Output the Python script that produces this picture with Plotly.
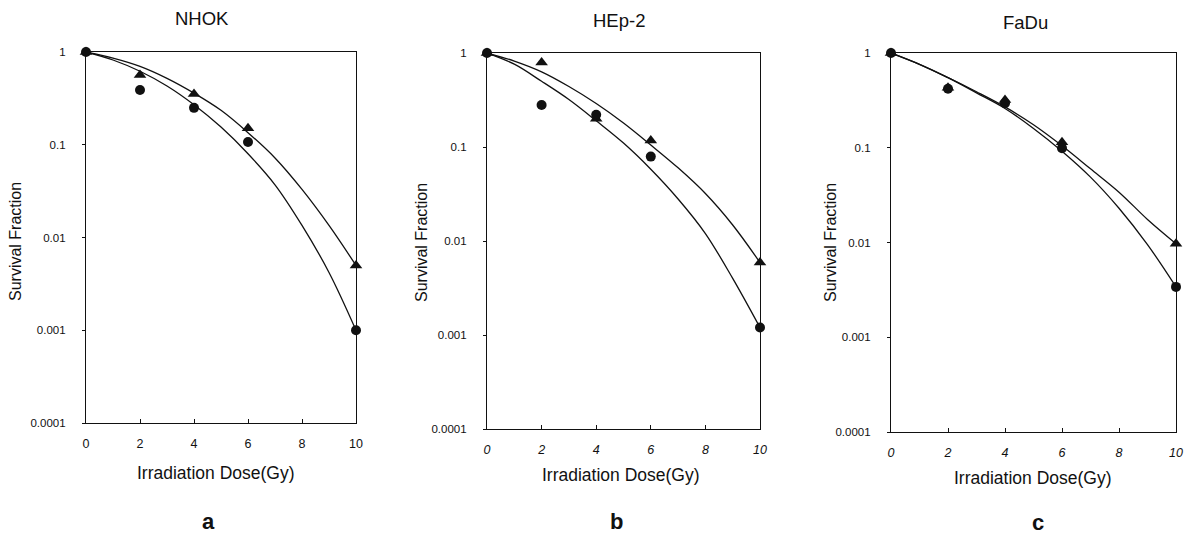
import plotly.graph_objects as go

# ---------------- data ----------------
PANEL_TITLES = ["NHOK", "HEp-2", "FaDu"]
PANEL_LETTERS = ["a", "b", "c"]
DOSE_MARK = [0, 2, 4, 6, 10]
DOSE_FIT = [0, 1, 2, 3, 4, 5, 6, 7, 8, 9, 10]
X_TICKS = [0, 2, 4, 6, 8, 10]
Y_TICKS = [1, 0.1, 0.01, 0.001, 0.0001]
Y_TICK_LABELS = ["1", "0.1", "0.01", "0.001", "0.0001"]

NHOK_TRI = [1, 0.565, 0.352, 0.151, 0.005]
NHOK_CIR = [1, 0.39, 0.25, 0.107, 0.001]
NHOK_TRI_FIT = [1, 0.86, 0.70, 0.52, 0.36, 0.235, 0.135, 0.072, 0.033, 0.0135, 0.005]
NHOK_CIR_FIT = [1, 0.82, 0.62, 0.43, 0.27, 0.155, 0.08, 0.037, 0.0135, 0.0042, 0.001]

HEP_TRI = [1, 0.79, 0.20, 0.117, 0.0059]
HEP_CIR = [1, 0.28, 0.22, 0.079, 0.0012]
HEP_TRI_FIT = [1, 0.82, 0.63, 0.44, 0.29, 0.18, 0.105, 0.060, 0.032, 0.0148, 0.0059]
HEP_CIR_FIT = [1, 0.76, 0.50, 0.32, 0.19, 0.11, 0.058, 0.028, 0.012, 0.0040, 0.0012]

FADU_TRI = [1, 0.43, 0.32, 0.114, 0.0097]
FADU_CIR = [1, 0.42, 0.295, 0.099, 0.0034]
FADU_TRI_FIT = [1, 0.76, 0.55, 0.39, 0.27, 0.175, 0.105, 0.060, 0.034, 0.0175, 0.0097]
FADU_CIR_FIT = [1, 0.76, 0.55, 0.38, 0.26, 0.16, 0.092, 0.049, 0.023, 0.0095, 0.0034]

PANELS = [
    (NHOK_TRI, NHOK_CIR, NHOK_TRI_FIT, NHOK_CIR_FIT),
    (HEP_TRI, HEP_CIR, HEP_TRI_FIT, HEP_CIR_FIT),
    (FADU_TRI, FADU_CIR, FADU_TRI_FIT, FADU_CIR_FIT),
]

# ---------------- layout geometry (pixels) ----------------
W, H = 1186, 536
# (x at dose 0, x at dose 10, y at 1, y at 1e-4)
BOXES = [(86, 356, 52, 423), (487, 760, 53, 429), (891, 1176, 53, 432)]
TITLE_POS = [(202, 18), (619, 20), (1025, 23)]
XTITLE_POS = [(216, 473), (621, 475), (1033, 478)]
YTITLE_POS = [(15, 242), (421, 243), (830, 243)]
LETTER_POS = [(208, 521), (616, 521), (1038, 522)]
FONT = "Liberation Sans, Arial, sans-serif"
INK = "#111111"

fig = go.Figure()
layout = dict(
    width=W, height=H, autosize=False,
    margin=dict(l=0, r=0, t=0, b=0, pad=0, autoexpand=False),
    paper_bgcolor="white", plot_bgcolor="white",
    showlegend=False,
    font=dict(family=FONT, color=INK),
)
annotations = []


def px(x, y):
    return x / W, 1 - y / H


for i, (tri, cir, tri_fit, cir_fit) in enumerate(PANELS):
    n = "" if i == 0 else str(i + 1)
    xa, ya = "x" + n, "y" + n
    x0, x1, yt, yb = BOXES[i]

    for fit in (tri_fit, cir_fit):
        fig.add_trace(go.Scatter(
            x=DOSE_FIT, y=fit, mode="lines",
            line=dict(color=INK, width=1.3, shape="spline", smoothing=1.0),
            xaxis=xa, yaxis=ya, hoverinfo="skip", cliponaxis=False))
    fig.add_trace(go.Scatter(
        x=DOSE_MARK, y=tri, mode="markers",
        marker=dict(symbol="triangle-up", size=11, color=INK),
        xaxis=xa, yaxis=ya, cliponaxis=False))
    fig.add_trace(go.Scatter(
        x=DOSE_MARK, y=cir, mode="markers",
        marker=dict(symbol="circle", size=10, color=INK),
        xaxis=xa, yaxis=ya, cliponaxis=False))

    italic = "italic" if i > 0 else "normal"
    layout["xaxis" + n] = dict(
        domain=[x0 / W, x1 / W], anchor=ya, range=[0, 10],
        tickvals=X_TICKS, ticktext=[str(t) for t in X_TICKS],
        ticks="inside", ticklen=4, tickcolor=INK,
        showline=True, linecolor=INK, linewidth=1.2, mirror=True,
        showgrid=False, zeroline=False, automargin=False,
        tickfont=dict(size=12.5, family=FONT, color=INK, style=italic),
        ticklabelstandoff=9,
    )
    layout["yaxis" + n] = dict(
        domain=[1 - yb / H, 1 - yt / H], anchor=xa, type="log", range=[-4, 0],
        tickvals=Y_TICKS, ticktext=Y_TICK_LABELS,
        ticks="outside", ticklen=3, tickcolor=INK,
        showline=True, linecolor=INK, linewidth=1.2, mirror=True,
        showgrid=False, zeroline=False, automargin=False,
        tickfont=dict(size=11.5, family=FONT, color=INK),
        ticklabelstandoff=14,
    )

    tx, ty = px(*TITLE_POS[i])
    annotations.append(dict(
        text=PANEL_TITLES[i], x=tx, y=ty, xref="paper", yref="paper",
        showarrow=False, font=dict(size=18.5, family=FONT, color=INK),
        xanchor="center", yanchor="middle"))
    tx, ty = px(*XTITLE_POS[i])
    annotations.append(dict(
        text="Irradiation Dose(Gy)", x=tx, y=ty,
        xref="paper", yref="paper", showarrow=False,
        font=dict(size=17.5, family=FONT, color=INK),
        xanchor="center", yanchor="middle"))
    tx, ty = px(*YTITLE_POS[i])
    annotations.append(dict(
        text="Survival Fraction", x=tx, y=ty,
        xref="paper", yref="paper", showarrow=False, textangle=-90,
        font=dict(size=16, family=FONT, color=INK),
        xanchor="center", yanchor="middle"))
    tx, ty = px(*LETTER_POS[i])
    annotations.append(dict(
        text="<b>" + PANEL_LETTERS[i] + "</b>", x=tx, y=ty,
        xref="paper", yref="paper", showarrow=False,
        font=dict(size=22, family=FONT, color=INK),
        xanchor="center", yanchor="middle"))

layout["annotations"] = annotations
fig.update_layout(**layout)
fig.write_html("out.html", config={"displayModeBar": False},
               post_script="document.body.style.margin='0';")
